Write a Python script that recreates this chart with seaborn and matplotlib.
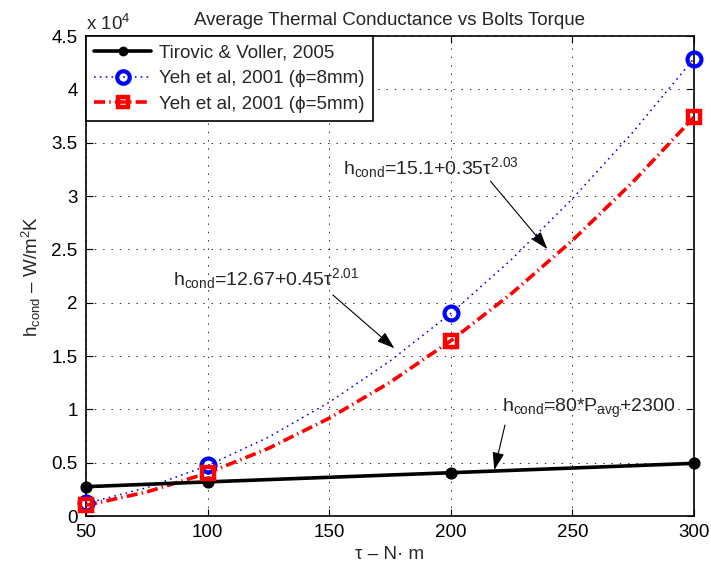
import matplotlib
matplotlib.use("Agg")
import matplotlib.pyplot as plt
from matplotlib.lines import Line2D
from matplotlib.ticker import FuncFormatter, MultipleLocator
import seaborn as sns
import pandas as pd

# ---- data ----
torque_pts = [50, 100, 200, 300]
tirovic_vals = [2750, 3200, 4060, 4940]
yeh8_pts = [1200, 4750, 19000, 42800]
yeh5_pts = [1000, 4000, 16450, 37400]

torque_curve = [50, 75, 100, 125, 150, 175, 200, 225, 250, 275, 300]
yeh8_curve = [1180, 2660, 4730, 7390, 10660, 14530, 18990, 24060, 29740, 36010, 42890]
yeh5_curve = [1000, 2260, 4030, 6340, 9170, 12530, 16430, 20860, 25830, 31340, 37390]

labels = ["Tirovic & Voller, 2005", "Yeh et al, 2001 (\u03d5=8mm)", "Yeh et al, 2001 (\u03d5=5mm)"]
title = "Average Thermal Conductance vs Bolts Torque"
xticks = [50, 100, 150, 200, 250, 300]

sns.set_theme(style="white")
plt.rcParams["font.family"] = ["Liberation Sans", "DejaVu Sans"]
plt.rcParams["mathtext.fontset"] = "custom"
plt.rcParams["mathtext.rm"] = "Liberation Sans"
plt.rcParams["mathtext.it"] = "Liberation Sans:italic"
plt.rcParams["mathtext.bf"] = "Liberation Sans:bold"
plt.rcParams["lines.scale_dashes"] = False

FS = 13.5
AFS = 14

fig = plt.figure(figsize=(7.11, 5.69), dpi=100)
ax = fig.add_axes([0.121, 0.0931, 0.855, 0.8436])

df_t = pd.DataFrame({"x": torque_pts, "y": tirovic_vals})
df_8c = pd.DataFrame({"x": torque_curve, "y": yeh8_curve})
df_5c = pd.DataFrame({"x": torque_curve, "y": yeh5_curve})
df_8p = pd.DataFrame({"x": torque_pts, "y": yeh8_pts})
df_5p = pd.DataFrame({"x": torque_pts, "y": yeh5_pts})

blue_ls = (0, (1.2, 3))
red_ls = (0, (8, 3, 1, 3))

sns.lineplot(data=df_8c, x="x", y="y", ax=ax, color="blue", lw=1.1, linestyle=blue_ls, legend=False, zorder=3)
sns.lineplot(data=df_5c, x="x", y="y", ax=ax, color="red", lw=2.6, linestyle=red_ls, legend=False, zorder=3)
sns.lineplot(data=df_t, x="x", y="y", ax=ax, color="black", lw=2.6, marker="o", markersize=8,
             markeredgecolor="black", legend=False, zorder=4, clip_on=False)
ax.plot(df_8p["x"], df_8p["y"], linestyle="none", marker="o", markersize=10, markerfacecolor="none",
        markeredgecolor="blue", markeredgewidth=3.0, zorder=5, clip_on=False)
ax.plot(df_5p["x"], df_5p["y"], linestyle="none", marker="s", markersize=8.5, markerfacecolor="none",
        markeredgecolor="red", markeredgewidth=3.2, zorder=5, clip_on=False)

ax.set_xlim(50, 300)
ax.set_ylim(0, 45000)
ax.set_xticks(xticks)
ax.yaxis.set_major_locator(MultipleLocator(5000))
ax.yaxis.set_major_formatter(FuncFormatter(lambda v, p: f"{v/1e4:g}"))
ax.grid(True, color="black", linestyle=(0, (1, 5)), linewidth=0.6)
ax.tick_params(direction="in", length=5, width=0.8, top=True, right=True, labelsize=FS,
               colors="black", pad=6, bottom=True, left=True)
for s in ax.spines.values():
    s.set_color("black")
    s.set_linewidth(1.2)

ax.set_title(title, fontsize=FS, pad=8)
ax.set_xlabel("\u03c4 \u2013 N\u00b7 m", fontsize=FS, labelpad=3)
ax.set_ylabel("h$_{\\rm cond}$ \u2013 W/m$^2$K", fontsize=FS, labelpad=6)
ax.text(0.0, 1.005, r"x 10$^4$", transform=ax.transAxes, ha="left", va="bottom", fontsize=FS)

handles = [
    Line2D([], [], color="black", lw=2.6, marker="o", markersize=6),
    Line2D([], [], color="blue", lw=1.1, linestyle=blue_ls, marker="o", markersize=9,
           markerfacecolor="none", markeredgewidth=3.0),
    Line2D([], [], color="red", lw=2.6, linestyle=red_ls, marker="s", markersize=7.5,
           markerfacecolor="none", markeredgewidth=3.2),
]
leg = ax.legend(handles, labels, loc="upper left", borderaxespad=0, fontsize=FS, frameon=True,
                fancybox=False, edgecolor="black", framealpha=1, handlelength=3.0, handletextpad=0.45,
                borderpad=0.45, labelspacing=0.45)
leg.get_frame().set_linewidth(1.2)
leg.set_zorder(10)

ann_kw = dict(arrowstyle="-|>,head_length=0.9,head_width=0.3", color="black", lw=0.8, shrinkA=0, shrinkB=0)
ax.text(155.5, 32060, "h$_{\\rm cond}$=15.1+0.35\u03c4$^{2.03}$", fontsize=AFS, ha="left", va="baseline")
ax.annotate("", xy=(239.7, 25030), xytext=(216.3, 31400), arrowprops=ann_kw)
ax.text(85.7, 21660, "h$_{\\rm cond}$=12.67+0.45\u03c4$^{2.01}$", fontsize=AFS, ha="left", va="baseline")
ax.annotate("", xy=(176.8, 15720), xytext=(151.5, 20720), arrowprops=ann_kw)
ax.text(221, 9780, "h$_{\\rm cond}$=80*P$_{\\rm avg}$+2300", fontsize=AFS, ha="left", va="baseline")
ax.annotate("", xy=(217.9, 4310), xytext=(222.3, 8530), arrowprops=ann_kw)

fig.savefig("out.png", dpi=100)
